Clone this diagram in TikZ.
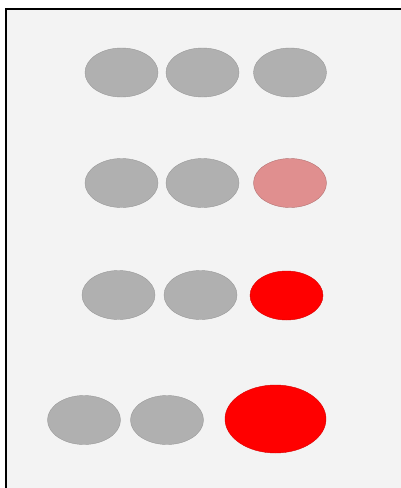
\documentclass[tikz,border=0pt]{standalone}
\usepackage{xcolor}
\usetikzlibrary{shapes.geometric}
\definecolor{panelbg}{HTML}{F3F3F3}
\definecolor{beadgray}{HTML}{B0B0B0}
\definecolor{beadpink}{HTML}{E08F8F}
\definecolor{beadred}{HTML}{FF0000}

\begin{document}
\begin{tikzpicture}[
  x=1pt,
  y=-1pt,
  bead/.style={ellipse, draw=black!40, fill=beadgray, line width=0.4pt, minimum width=73pt, minimum height=49pt, inner sep=0pt},
  warm/.style={bead, fill=beadpink, draw=beadpink!80!black},
  hot/.style={bead, fill=beadred, draw=beadred!85!black},
  big/.style={minimum width=101pt, minimum height=68pt}
]
\useasboundingbox (0,0) rectangle (401,488);
\clip (0,0) rectangle (401,488);
\fill[white] (0,0) rectangle (401,488);
\draw[line width=2.3pt, fill=panelbg] (6,9) rectangle (410,500);

% row 1
\node[bead] (r1a) at (121.5,72.5) {};
\node[bead] (r1b) at (202.5,72.5) {};
\node[bead] (r1c) at (290,72.5) {};

% row 2
\node[bead] (r2a) at (121.5,183) {};
\node[bead] (r2b) at (202.5,183) {};
\node[warm] (r2c) at (290,183) {};

% row 3
\node[bead] (r3a) at (118.5,295) {};
\node[bead] (r3b) at (200.5,295) {};
\node[hot] (r3c) at (286.5,295.5) {};

% row 4
\node[bead] (r4a) at (84,420) {};
\node[bead] (r4b) at (167,420) {};
\node[hot, big] (r4c) at (275.5,419) {};
\end{tikzpicture}
\end{document}
